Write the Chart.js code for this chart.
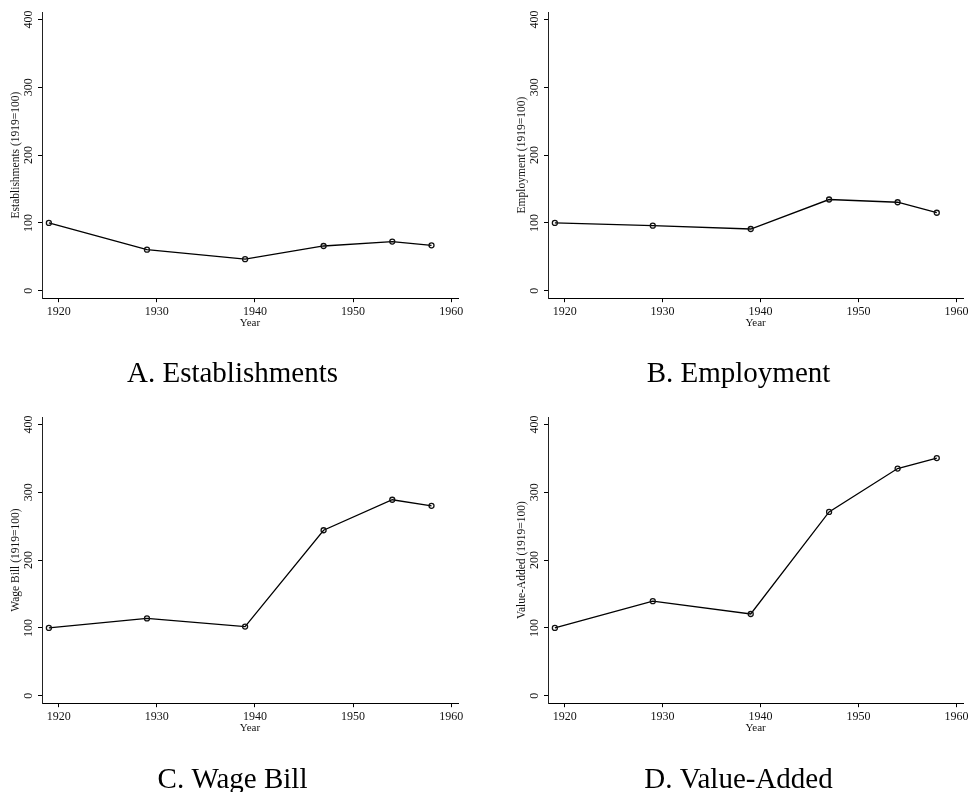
<!DOCTYPE html>
<html>
<head>
<meta charset="utf-8">
<script src="https://cdn.jsdelivr.net/npm/chart.js@4.4.1/dist/chart.umd.min.js"></script>
<style>
  html, body { margin: 0; padding: 0; background: #fff; }
  #wrap { position: relative; width: 971px; height: 792px; overflow: hidden; }
  canvas { position: absolute; }
</style>
</head>
<body>
<div id="wrap">
  <canvas id="panelA" width="485" height="400" style="left:0;top:0"></canvas>
  <canvas id="panelB" width="465" height="400" style="left:506px;top:0"></canvas>
  <canvas id="panelC" width="485" height="393" style="left:0;top:405px"></canvas>
  <canvas id="panelD" width="465" height="393" style="left:506px;top:405px"></canvas>
</div>
<script>
// Census years and index values (1919 = 100)
const years = [1919, 1929, 1939, 1947, 1954, 1958];
const establishments = [100, 60.5, 46.5, 66, 72.5, 67];
const employment = [100, 96, 91, 134.5, 130.5, 115];
const wageBill = [100, 114, 102, 244, 289, 280];
const valueAdded = [100, 139.5, 120.5, 271, 335, 350.5];

const xTicks = [1920, 1930, 1940, 1950, 1960];
const yTicks = [0, 100, 200, 300, 400];

const serif = '"Liberation Serif", "Times New Roman", serif';

function makePanel(id, values, yLabel, caption, opts) {
  const ctx = document.getElementById(id).getContext('2d');
  return new Chart(ctx, {
    type: 'line',
    data: {
      datasets: [{
        data: years.map((y, i) => ({ x: y, y: values[i] })),
        borderColor: '#000',
        borderWidth: 1.3,
        pointRadius: 2.5,
        pointBorderWidth: 1.3,
        pointBorderColor: '#111',
        pointBackgroundColor: 'rgba(255,255,255,0)',
        tension: 0
      }]
    },
    options: {
      responsive: false,
      animation: false,
      layout: {
        padding: { left: 7, right: opts.padRight, top: 12, bottom: opts.padBottom }
      },
      plugins: {
        legend: { display: false },
        tooltip: { enabled: false },
        title: {
          display: true,
          position: 'bottom',
          text: caption,
          color: '#000',
          font: { family: serif, size: 29, weight: 'normal' },
          padding: { top: opts.titleGap, bottom: 0 }
        }
      },
      scales: {
        x: {
          type: 'linear',
          min: 1918.3,
          max: 1960.7,
          afterBuildTicks: s => { s.ticks = xTicks.map(v => ({ value: v })); },
          afterFit: s => { s.height = 32; },
          grid: { drawOnChartArea: false, drawTicks: true, tickLength: 4, tickColor: '#000' },
          border: { display: true, color: '#000', width: 1 },
          ticks: {
            color: '#111',
            padding: 2.5,
            maxRotation: 0,
            autoSkip: false,
            font: { family: serif, size: 12 },
            callback: v => String(v)
          },
          title: {
            display: true,
            text: 'Year',
            color: '#111',
            font: { family: serif, size: 11 },
            padding: { top: 0, bottom: 0 }
          }
        },
        y: {
          type: 'linear',
          min: -11,
          max: 411,
          afterBuildTicks: s => { s.ticks = yTicks.map(v => ({ value: v })); },
          afterFit: s => { s.width = 35; },
          grid: { drawOnChartArea: false, drawTicks: true, tickLength: 4, tickColor: '#000' },
          border: { display: true, color: '#222', width: 1 },
          ticks: {
            color: '#111',
            padding: 0,
            minRotation: 90,
            maxRotation: 90,
            crossAlign: 'center',
            autoSkip: false,
            font: { family: serif, size: 12 },
            callback: v => String(v)
          },
          title: {
            display: true,
            text: yLabel,
            color: '#111',
            font: { family: serif, size: 11.5 },
            padding: { top: 1.6, bottom: 0 }
          }
        }
      }
    }
  });
}

const topRow = { padRight: 27, padBottom: 8, titleGap: 27 };
const bottomRow = { padRight: 27, padBottom: 0, titleGap: 28 };

makePanel('panelA', establishments, 'Establishments (1919=100)', 'A. Establishments', topRow);
makePanel('panelB', employment, 'Employment (1919=100)', 'B. Employment', { ...topRow, padRight: 7 });
makePanel('panelC', wageBill, 'Wage Bill (1919=100)', 'C. Wage Bill', bottomRow);
makePanel('panelD', valueAdded, 'Value-Added (1919=100)', 'D. Value-Added', { ...bottomRow, padRight: 7 });
</script>
</body>
</html>
